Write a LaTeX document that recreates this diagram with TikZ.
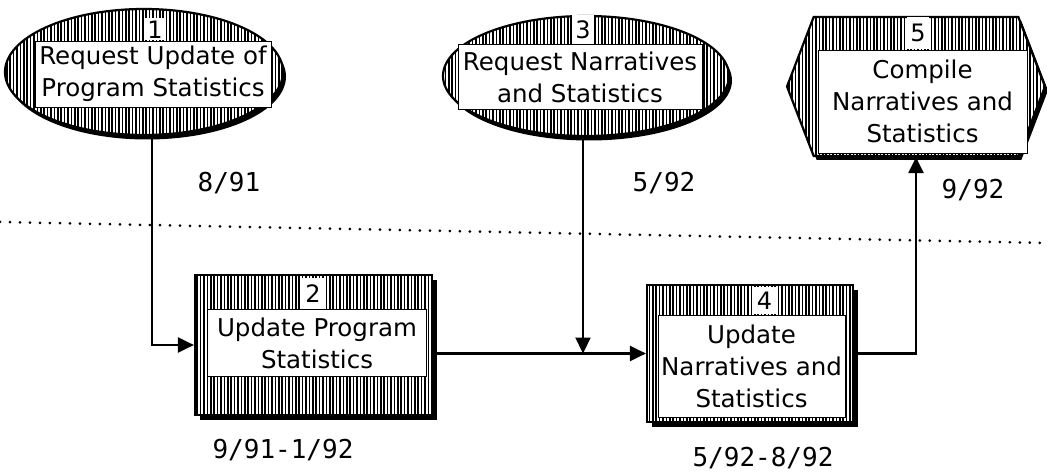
\documentclass[tikz,border=0pt]{standalone}
\usepackage{fontspec}
\setmainfont{DejaVu Sans}
\newfontfamily\datefont{DejaVu Sans Mono}
\usetikzlibrary{
    arrows.meta,
    positioning,
    shapes.geometric,   % ellipse
    shapes.symbols,     % signal
    patterns.meta,      % vertical hatching
    shadows
}
\tikzset{
    hatched/.style={
        draw,
        line width=2.2pt,
        preaction={fill=white},
        pattern={Lines[angle=90, distance=3.4pt, line width=1.6pt]}
    },
    event/.style={
        ellipse,
        drop shadow={shadow xshift=3pt, shadow yshift=-4.5pt, fill=black, opacity=1},
        hatched,
        inner sep=0pt
    },
    task/.style={
        rectangle,
        drop shadow={shadow xshift=5pt, shadow yshift=-5pt, fill=black, opacity=1},
        hatched,
        inner sep=0pt
    },
    report/.style={
        signal,
        signal to=west and east,
        signal pointer angle=138,
        drop shadow={shadow xshift=3pt, shadow yshift=-4pt, fill=black, opacity=1},
        hatched,
        inner sep=0pt
    },
    txtbox/.style={
        fill=white,
        draw,
        line width=0.8pt,
        align=center,
        inner sep=0pt,
        font=\fontsize{24.5}{32}\selectfont
    },
    numbox/.style={
        fill=white,
        inner sep=0pt,
        minimum width=22pt,
        minimum height=28pt,
        font=\fontsize{24}{24}\selectfont
    },
    datelbl/.style={
        font=\datefont\fontsize{26}{26}\selectfont
    },
    flow/.style={
        -{Triangle[length=16pt, width=15pt]},
        line width=2.2pt
    },
    cutoff/.style={
        line width=3pt,
        line cap=round,
        dash pattern=on 0pt off 10pt
    }
}

\begin{document}
\begin{tikzpicture}[x=1pt, y=-1pt]
    \useasboundingbox (0,0) rectangle (1047,473);

    % Cut-off line
    \coordinate (cutA) at (0,222);
    \coordinate (cutB) at (1047,243);
    \draw [cutoff] (cutA) -- (cutB);

    % 1: Request Update of Program Statistics
    \node [event, minimum width=278pt, minimum height=126pt] (req1) at (144,72) {};
    \node [txtbox, minimum width=236pt, minimum height=66pt] (req1txt) at (153,74)
        {Request Update of\\Program Statistics};
    \node [numbox, minimum height=22pt, above=0pt of req1txt, xshift=2pt] (req1num) {1};

    % 2: Update Program Statistics
    \node [task, minimum width=237pt, minimum height=140pt] (upd2) at (313.5,345) {};
    \node [txtbox, minimum width=219pt, minimum height=67pt] (upd2txt) at (317,343)
        {Update Program\\Statistics};
    \node [numbox, minimum height=31pt, above=0pt of upd2txt, xshift=-4pt] (upd2num) {2};

    % 3: Request Narratives and Statistics
    \node [event, minimum width=286pt, minimum height=120pt] (req3) at (586,76) {};
    \node [txtbox, minimum width=244pt, minimum height=65pt] (req3txt) at (580,77)
        {Request Narratives\\and Statistics};
    \node [numbox, minimum height=29pt, above=0pt of req3txt, xshift=3pt] (req3num) {3};

    % 4: Update Narratives and Statistics
    \node [task, minimum width=206pt, minimum height=137pt] (upd4) at (750,353.5) {};
    \node [txtbox, minimum width=187pt, minimum height=102pt] (upd4txt) at (751.5,366)
        {Update\\Narratives and\\Statistics};
    \node [numbox, minimum height=27pt, above=0pt of upd4txt, xshift=13pt] (upd4num) {4};

    % 5: Compile Narratives and Statistics
    \node [report, minimum width=258pt, minimum height=139pt] (comp5) at (916,86.5) {};
    \node [txtbox, minimum width=209pt, minimum height=103pt] (comp5txt) at (922.5,101.5)
        {Compile\\Narratives and\\Statistics};
    \node [numbox, minimum height=32pt, above=0pt of comp5txt, xshift=-4.5pt] (comp5num) {5};

    % Dates
    \node [datelbl] (date1) at (229,183) {8/91};
    \node [datelbl] (date3) at (664,183) {5/92};
    \node [datelbl] (date5) at (973,190) {9/92};
    \node [datelbl] (date2) at (283,450) {9/91-1/92};
    \node [datelbl] (date4) at (763,458) {5/92-8/92};

    % Flows
    \draw [flow] ([xshift=8pt]req1.south) |- (upd2.west);
    \draw [flow] (upd2.east |- upd4.west) -- (upd4.west);
    \coordinate (join) at ([xshift=-3pt]req3.south |- upd4.west);
    \draw [flow] ([xshift=-3pt]req3.south) -- (join);
    \draw [flow] (upd4.east) -| (comp5.south);
\end{tikzpicture}
\end{document}
